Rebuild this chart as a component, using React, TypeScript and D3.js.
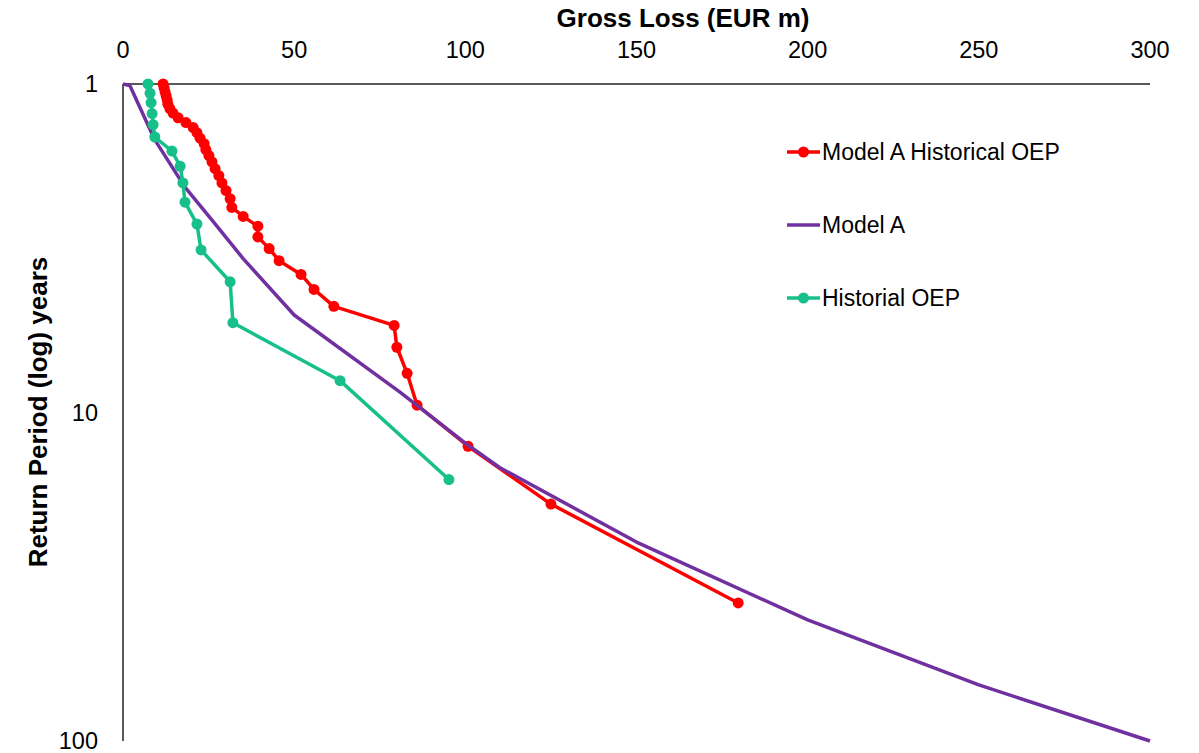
import React, { useEffect, useRef } from "react";
import * as d3 from "d3";

// Gross loss (EUR m) against return period (years)
const historicalModelLoss = [
  179.7, 125.0, 100.8, 85.9, 83.0, 80.0, 79.2, 61.6, 55.8, 52.0, 45.6, 42.7, 39.4,
  39.4, 35.1, 31.8, 31.3, 30.1, 28.9, 28.0, 26.9, 26.0, 25.1, 24.2, 23.7, 22.5,
  21.6, 20.5, 18.4, 16.1, 14.6, 13.7, 13.1, 12.9, 12.6, 12.3, 12.0, 11.7,
];
const historicalModelRP = [
  38, 19, 12.67, 9.5, 7.6, 6.33, 5.43, 4.75, 4.22, 3.8, 3.45, 3.17, 2.92, 2.71, 2.53,
  2.375, 2.235, 2.11, 2.0, 1.9, 1.81, 1.727, 1.652, 1.583, 1.52, 1.462, 1.407, 1.357,
  1.31, 1.267, 1.226, 1.188, 1.152, 1.118, 1.086, 1.056, 1.027, 1.0,
];

const modelLoss = [0, 2, 9.3, 18.1, 26.3, 35.1, 50, 80.9, 100, 110, 150, 200, 250, 300];
const modelRP = [1, 1.01, 1.48, 2.06, 2.62, 3.4, 5.05, 8.67, 12.4, 14.7, 24.8, 42.8, 67.5, 100];

const observedLoss = [
  95.2, 63.4, 32.1, 31.3, 22.8, 21.6, 18.1, 17.5, 16.7, 14.3, 9.3, 8.8, 8.5, 8.2, 7.9, 7.3,
];
const observedRP = [
  16, 8, 5.33, 4, 3.2, 2.67, 2.29, 2, 1.78, 1.6, 1.45, 1.33, 1.23, 1.14, 1.067, 1,
];

const xTicks = [0, 50, 100, 150, 200, 250, 300];
const yTicks = [1, 10, 100];

const seriesNames = ["Model A Historical OEP", "Model A", "Historial OEP"];
const seriesColors = ["#ff0000", "#7030a0", "#17c08b"];

const W = 1199;
const H = 753;
const FONT = "'Liberation Sans', Arial, sans-serif";

export default function App() {
  const ref = useRef<SVGSVGElement | null>(null);

  useEffect(() => {
    const svg = d3.select(ref.current);
    svg.selectAll("*").remove();

    const x = d3.scaleLinear().domain([0, 300]).range([123, 1150]);
    const y = d3.scaleLog().domain([1, 100]).range([84, 741]);

    const line = d3
      .line<[number, number]>()
      .x((d) => x(d[0]))
      .y((d) => y(d[1]));

    // axes: top horizontal and left vertical
    svg.append("line")
      .attr("x1", x(0)).attr("x2", x(300))
      .attr("y1", y(1)).attr("y2", y(1))
      .attr("stroke", "#595959").attr("stroke-width", 2);
    svg.append("line")
      .attr("x1", x(0)).attr("x2", x(0))
      .attr("y1", y(1)).attr("y2", y(100))
      .attr("stroke", "#595959").attr("stroke-width", 2);

    svg.append("g")
      .selectAll("text")
      .data(xTicks)
      .join("text")
      .attr("x", (d) => x(d))
      .attr("y", 58)
      .attr("text-anchor", "middle")
      .attr("font-family", FONT)
      .attr("font-size", 23.5)
      .attr("fill", "#000")
      .text((d) => d);

    svg.append("g")
      .selectAll("text")
      .data(yTicks)
      .join("text")
      .attr("x", 98)
      .attr("y", (d) => y(d))
      .attr("dy", "0.35em")
      .attr("text-anchor", "end")
      .attr("font-family", FONT)
      .attr("font-size", 23.5)
      .attr("fill", "#000")
      .text((d) => d);

    svg.append("text")
      .attr("x", 683)
      .attr("y", 27)
      .attr("text-anchor", "middle")
      .attr("font-family", FONT)
      .attr("font-weight", "bold")
      .attr("font-size", 26)
      .text("Gross Loss (EUR m)");

    svg.append("text")
      .attr("transform", `translate(47,412) rotate(-90)`)
      .attr("text-anchor", "middle")
      .attr("font-family", FONT)
      .attr("font-weight", "bold")
      .attr("font-size", 26)
      .text("Return Period (log) years");

    const series: { pts: [number, number][]; markers: boolean }[] = [
      { pts: historicalModelLoss.map((v, i) => [v, historicalModelRP[i]]), markers: true },
      { pts: modelLoss.map((v, i) => [v, modelRP[i]]), markers: false },
      { pts: observedLoss.map((v, i) => [v, observedRP[i]]), markers: true },
    ];

    series.forEach((s, i) => {
      const g = svg.append("g");
      g.append("path")
        .attr("d", line(s.pts))
        .attr("fill", "none")
        .attr("stroke", seriesColors[i])
        .attr("stroke-width", 3.5)
        .attr("stroke-linejoin", "round");
      if (s.markers) {
        g.selectAll("circle")
          .data(s.pts)
          .join("circle")
          .attr("cx", (d) => x(d[0]))
          .attr("cy", (d) => y(d[1]))
          .attr("r", 5.5)
          .attr("fill", seriesColors[i]);
      }
    });

    // legend
    const legendY = [152, 225, 298];
    seriesNames.forEach((name, i) => {
      const g = svg.append("g");
      g.append("line")
        .attr("x1", 787).attr("x2", 820)
        .attr("y1", legendY[i]).attr("y2", legendY[i])
        .attr("stroke", seriesColors[i])
        .attr("stroke-width", 3.5);
      if (i !== 1) {
        g.append("circle")
          .attr("cx", 803.5)
          .attr("cy", legendY[i])
          .attr("r", 5.5)
          .attr("fill", seriesColors[i]);
      }
      g.append("text")
        .attr("x", 822)
        .attr("y", legendY[i])
        .attr("dy", "0.35em")
        .attr("font-family", FONT)
        .attr("font-size", 23)
        .attr("fill", "#000")
        .text(name);
    });
  }, []);

  return (
    <svg
      ref={ref}
      width={W}
      height={H}
      style={{ position: "absolute", left: 0, top: 0, background: "#fff", display: "block" }}
    />
  );
}
